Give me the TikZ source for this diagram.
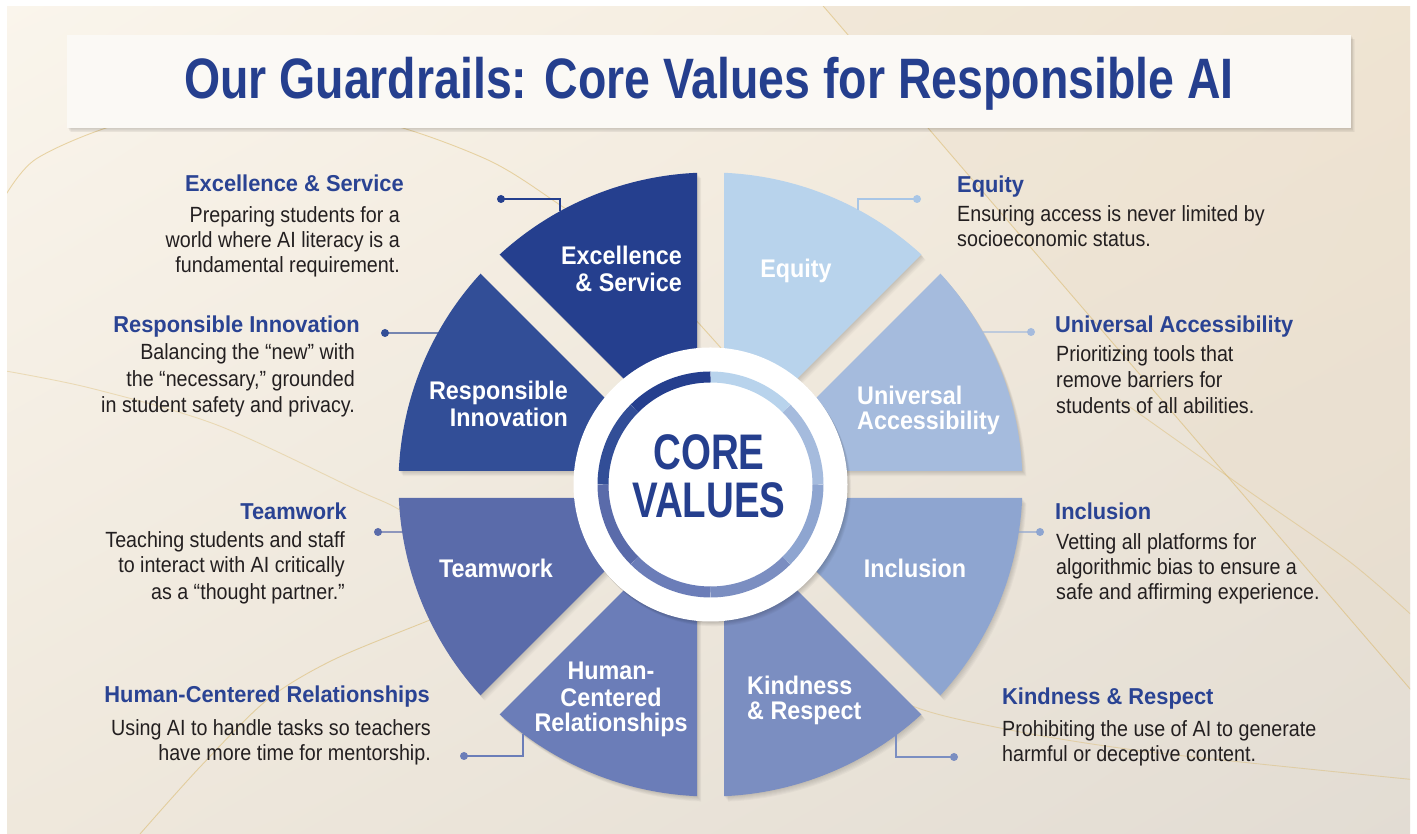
\documentclass[tikz,border=0pt]{standalone}
\usepackage{fontspec}
\setmainfont{Liberation Sans}
\newfontfamily\fTitle[FakeStretch=0.815]{Liberation Sans}
\newfontfamily\fCore[FakeStretch=0.77]{Liberation Sans}
\newfontfamily\fSeg[FakeStretch=0.915]{Liberation Sans}
\newfontfamily\fHead[FakeStretch=0.95]{Liberation Sans}
\newfontfamily\fBody[FakeStretch=0.895]{Liberation Sans}
\usetikzlibrary{calc,shadings}
\definecolor{cExc}{HTML}{253F8E}
\definecolor{cRes}{HTML}{324E97}
\definecolor{cTea}{HTML}{5A6BAA}
\definecolor{cHum}{HTML}{6B7DB8}
\definecolor{cKin}{HTML}{7B8EC1}
\definecolor{cInc}{HTML}{8EA5D0}
\definecolor{cUni}{HTML}{A5BBDD}
\definecolor{cEqu}{HTML}{B8D3EC}
\definecolor{cEquL}{HTML}{A9C6E6}
\definecolor{cHead}{HTML}{2A4393}
\definecolor{cBody}{HTML}{231F20}
\definecolor{cGold}{HTML}{D8B460}
\definecolor{bgUL}{HTML}{FAF5EC}
\definecolor{bgUR}{HTML}{F2E8D8}
\definecolor{bgLL}{HTML}{EFE8DC}
\definecolor{bgLR}{HTML}{E2DCD3}
\definecolor{bgPanel}{HTML}{EADCC6}
\definecolor{cTitleBox}{HTML}{FBF9F5}
\newcommand\wsegshadow[1]{%
  \foreach \s in {1,...,6}{%
    \fill[black,opacity=0.028,shift={(710.5+\s*0.7,349.5-\s*0.9)}]
      ({#1+22.5}:35.28) -- ({#1+2.48}:312) arc[start angle={#1+2.48}, end angle={#1+42.52}, radius=312] -- cycle;}}
\newcommand\wsegfill[2]{%
  \fill[#2,shift={(710.5,349.5)}]
    ({#1+22.5}:35.28) -- ({#1+2.48}:312) arc[start angle={#1+2.48}, end angle={#1+42.52}, radius=312] -- cycle;}
\newcommand\wring[2]{%
  \draw[#2,line width=11pt,shift={(710.5,349.5)}] (#1:107.5) arc[start angle=#1, end angle={#1+45}, radius=107.5];}
\begin{document}
\begin{tikzpicture}[x=1pt,y=1pt,
  head/.style={inner sep=0pt, text=cHead, font=\fHead\bfseries\fontsize{23}{26}\selectfont},
  body/.style={inner sep=0pt, text=cBody, font=\fBody\fontsize{22}{25}\selectfont},
  seglbl/.style={inner sep=0pt, text=white, font=\fSeg\bfseries\fontsize{25.5}{28}\selectfont},
  conn/.style={line width=1.4pt},
  cdot/.style={circle, inner sep=0pt, minimum size=8pt},
  gold/.style={draw=cGold, line width=0.9pt, opacity=0.5}]
\useasboundingbox (0,0) rectangle (1417,834);
\fill[white] (0,0) rectangle (1417,834);
\coordinate (C) at (710.5,349.5);
% background
\begin{scope}
\clip (7,0) rectangle (1410,827);
\shade[upper left=bgUL, upper right=bgUR, lower left=bgLL, lower right=bgLR] (0,0) rectangle (1417,834);
\fill[bgPanel,opacity=0.3] (818,834) -- (1417,834) -- (1417,137) -- cycle;
\draw[gold] plot[smooth] coordinates {(0,629) (36,675) (130,713) (253,726) (380,712) (488,674) (560,629) (640,572) (693,517) (745,459)};
\draw[gold] (818,834) -- (1417,137);
\draw[gold,opacity=0.35] plot[smooth] coordinates {(0,464) (90,446) (217,409) (357,344) (400,324) (480,274)};
\draw[gold] plot[smooth] coordinates {(140,0) (200,67) (267,134) (333,174) (430,214) (520,250)};
\draw[gold,opacity=0.4] plot[smooth] coordinates {(840,200) (900,134) (1000,106) (1150,82) (1417,54)};
\draw[gold,opacity=0.4] plot[smooth] coordinates {(1120,434) (1247,344) (1350,272) (1417,214)};
\end{scope}
% title box
\foreach \s in {1,...,5}{\fill[black,opacity=0.03,shift={(\s*0.8,-\s*0.9)}] (67,706) rectangle (1351,799);}
\node[fill=cTitleBox, minimum width=1284pt, minimum height=93pt, inner sep=0pt] (titlebox) at (709,752.5) {};
\node[anchor=base, inner sep=0pt, text=cExc, font=\fTitle\bfseries\fontsize{57}{60}\selectfont] (title) at (709,735) {Our Guardrails: Core Values for Responsible AI};
% wheel shadows
\foreach \a in {0,45,...,315}{\wsegshadow{\a}}
% wheel segments
\wsegfill{0}{cUni}
\wsegfill{45}{cEqu}
\wsegfill{90}{cExc}
\wsegfill{135}{cRes}
\wsegfill{180}{cTea}
\wsegfill{225}{cHum}
\wsegfill{270}{cKin}
\wsegfill{315}{cInc}
% centre circle
\foreach \s in {1,...,6}{\fill[black,opacity=0.03] ($(C)+(\s*0.6,-\s*0.8)$) circle (137);}
\node[circle, fill=white, minimum size=274pt, inner sep=0pt] (core) at (C) {};
\wring{0}{cUni}
\wring{45}{cEqu}
\wring{90}{cExc}
\wring{135}{cRes}
\wring{180}{cTea}
\wring{225}{cHum}
\wring{270}{cKin}
\wring{315}{cInc}
\node[anchor=base, inner sep=0pt, text=cExc, font=\fCore\bfseries\fontsize{50}{52}\selectfont] (core1) at (709,364) {CORE};
\node[anchor=base, inner sep=0pt, text=cExc, font=\fCore\bfseries\fontsize{50}{52}\selectfont] (core2) at (709,316) {VALUES};
% segment labels
\node[seglbl, anchor=base east] (lExc1) at (682,569) {Excellence};
\node[seglbl, anchor=base east] (lExc2) at (682,542) {\& Service};
\node[seglbl, anchor=base east] (lRes1) at (568,434) {Responsible};
\node[seglbl, anchor=base east] (lRes2) at (568,407) {Innovation};
\node[seglbl, anchor=base] (lEqu) at (796,556) {Equity};
\node[seglbl, anchor=base west] (lUni1) at (857,429) {Universal};
\node[seglbl, anchor=base west] (lUni2) at (857,404) {Accessibility};
\node[seglbl, anchor=base] (lTea) at (496,256) {Teamwork};
\node[seglbl, anchor=base] (lHum1) at (611,154) {Human-};
\node[seglbl, anchor=base] (lHum2) at (611,127) {Centered};
\node[seglbl, anchor=base] (lHum3) at (611,102) {Relationships};
\node[seglbl, anchor=base] (lInc) at (915,256) {Inclusion};
\node[seglbl, anchor=base west] (lKin1) at (747,139) {Kindness};
\node[seglbl, anchor=base west] (lKin2) at (747,114) {\& Respect};
% connectors
\coordinate (eExc) at ($(C)+(118.84:312)$);
\coordinate (eEqu) at ($(C)+(61.79:312)$);
\coordinate (eRes) at ($(C)+(150.95:312)$);
\coordinate (eUni) at ($(C)+(29.26:312)$);
\coordinate (eTea) at ($(C)+(188.76:312)$);
\coordinate (eInc) at ($(C)+(-8.76:312)$);
\coordinate (eHum) at ($(C)+(233.05:312)$);
\coordinate (eKin) at ($(C)+(306.48:312)$);
\node[cdot, fill=cExc] (dExc) at (501,635) {};
\node[cdot, fill=cEquL] (dEqu) at (917,635) {};
\node[cdot, fill=cRes] (dRes) at (385,501) {};
\node[cdot, fill=cUni] (dUni) at (1031,502) {};
\node[cdot, fill=cTea] (dTea) at (378,302) {};
\node[cdot, fill=cInc] (dInc) at (1040,302) {};
\node[cdot, fill=cHum] (dHum) at (464,78) {};
\node[cdot, fill=cKin] (dKin) at (954,77) {};
\draw[conn, cExc] (dExc.center) -| (eExc);
\draw[conn, cEquL] (dEqu.center) -| (eEqu);
\draw[conn, cRes] (dRes.center) -- (eRes);
\draw[conn, cUni] (dUni.center) -- (eUni);
\draw[conn, cTea] (dTea.center) -- (eTea);
\draw[conn, cInc] (dInc.center) -- (eInc);
\draw[conn, cHum] (dHum.center) -| (eHum);
\draw[conn, cKin] (dKin.center) -| (eKin);
% left text blocks
\node[head, anchor=base east] (hExc) at (404,642) {Excellence \& Service};
\node[body, anchor=base east] (bExc1) at (400,611) {Preparing students for a};
\node[body, anchor=base east] (bExc2) at (400,586) {world where AI literacy is a};
\node[body, anchor=base east] (bExc3) at (400,561) {fundamental requirement.};
\node[head, anchor=base east] (hRes) at (360,501) {Responsible Innovation};
\node[body, anchor=base east] (bRes1) at (355,474) {Balancing the “new” with};
\node[body, anchor=base east] (bRes2) at (355,447) {the “necessary,” grounded};
\node[body, anchor=base east] (bRes3) at (355,421) {in student safety and privacy.};
\node[head, anchor=base east] (hTea) at (347,314) {Teamwork};
\node[body, anchor=base east] (bTea1) at (345,286) {Teaching students and staff};
\node[body, anchor=base east] (bTea2) at (345,261) {to interact with AI critically};
\node[body, anchor=base east] (bTea3) at (345,234) {as a “thought partner.”};
\node[head, anchor=base east] (hHum) at (430,131) {Human-Centered Relationships};
\node[body, anchor=base east] (bHum1) at (431,98) {Using AI to handle tasks so teachers};
\node[body, anchor=base east] (bHum2) at (431,73) {have more time for mentorship.};
% right text blocks
\node[head, anchor=base west] (hEqu) at (957,641) {Equity};
\node[body, anchor=base west] (bEqu1) at (957,612) {Ensuring access is never limited by};
\node[body, anchor=base west] (bEqu2) at (957,587) {socioeconomic status.};
\node[head, anchor=base west] (hUni) at (1055,501) {Universal Accessibility};
\node[body, anchor=base west] (bUni1) at (1056,472) {Prioritizing tools that};
\node[body, anchor=base west] (bUni2) at (1056,446) {remove barriers for};
\node[body, anchor=base west] (bUni3) at (1056,420) {students of all abilities.};
\node[head, anchor=base west] (hInc) at (1055,314) {Inclusion};
\node[body, anchor=base west] (bInc1) at (1056,284) {Vetting all platforms for};
\node[body, anchor=base west] (bInc2) at (1056,259) {algorithmic bias to ensure a};
\node[body, anchor=base west] (bInc3) at (1056,234) {safe and affirming experience.};
\node[head, anchor=base west] (hKin) at (1002,129) {Kindness \& Respect};
\node[body, anchor=base west] (bKin1) at (1002,97) {Prohibiting the use of AI to generate};
\node[body, anchor=base west] (bKin2) at (1002,72) {harmful or deceptive content.};
\end{tikzpicture}
\end{document}
